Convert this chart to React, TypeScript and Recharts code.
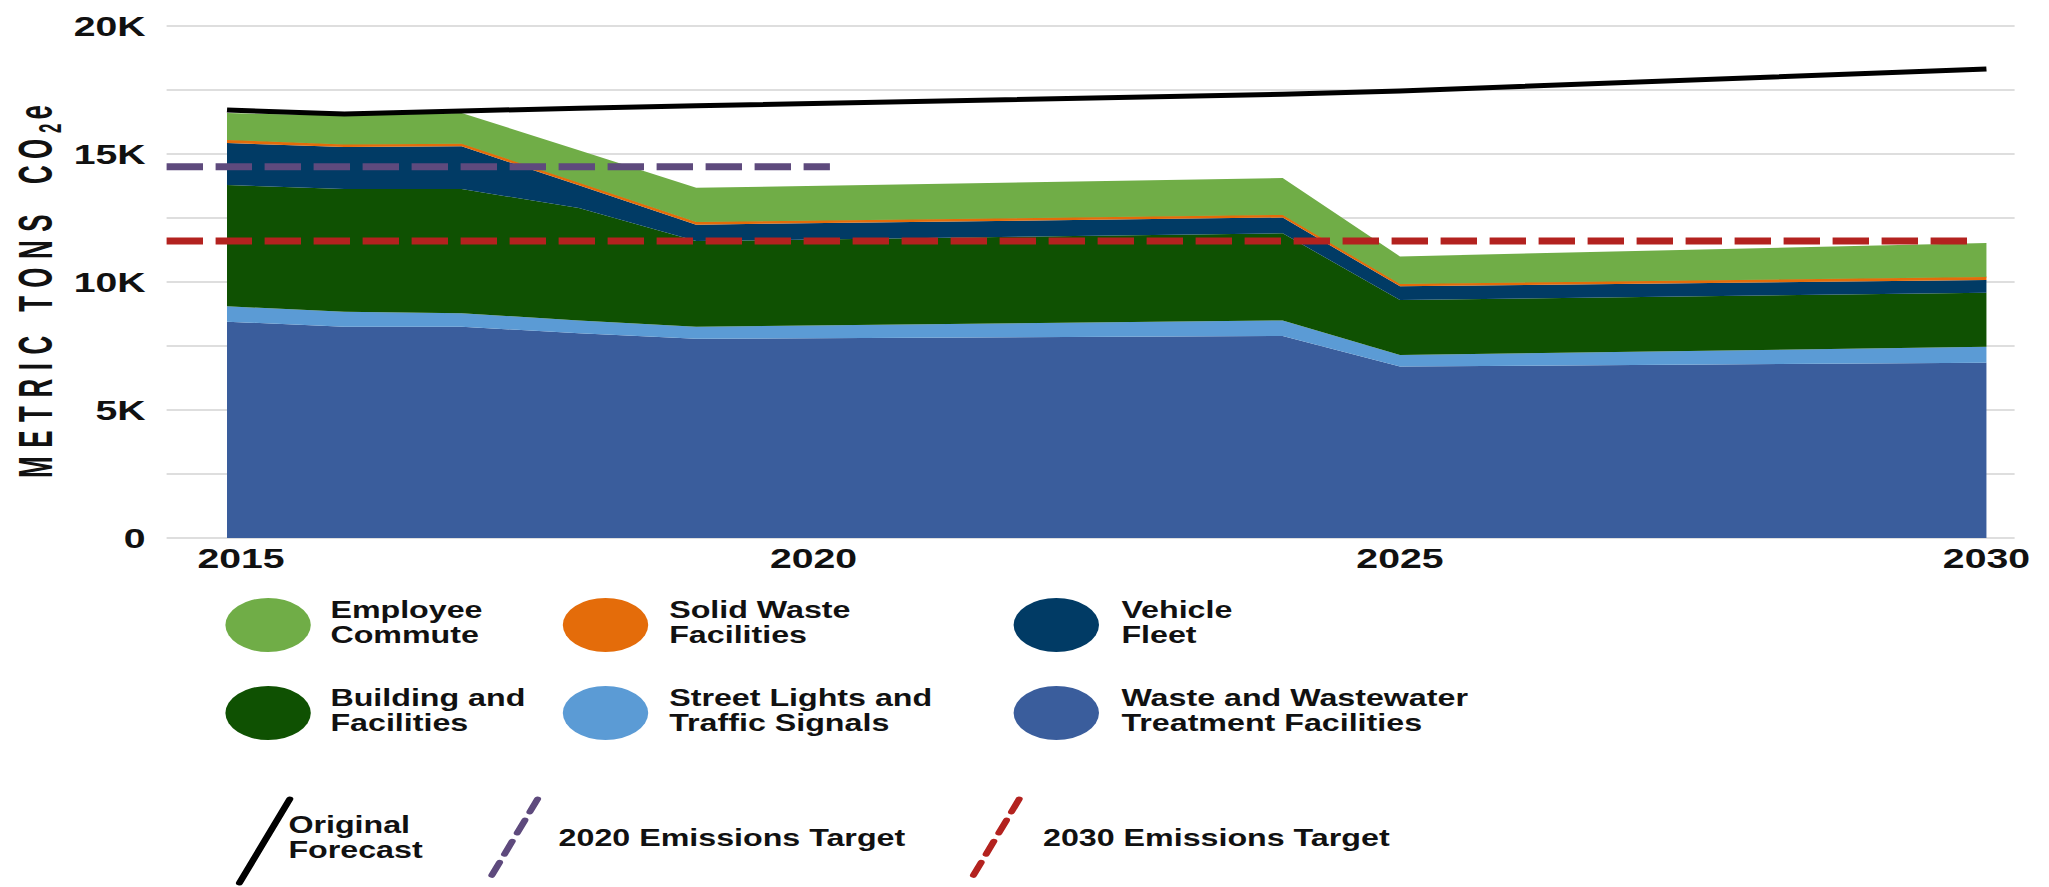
import React from "react";
import {
  Area,
  CartesianGrid,
  ComposedChart,
  Label,
  Legend,
  Line,
  ReferenceLine,
  XAxis,
  YAxis,
} from "recharts";

// years where the stacked areas change direction
const years = [2015, 2016, 2017, 2018, 2019, 2024, 2025, 2030];

// metric tons CO2e per source (stack thickness), bottom to top
const wastewater = [8450, 8250, 8250, 8000, 7780, 7890, 6700, 6850];
const streetLights = [600, 590, 530, 500, 470, 610, 450, 620];
const buildings = [4740, 4790, 4850, 4390, 3350, 3400, 2150, 2110];
const vehicleFleet = [1640, 1640, 1670, 890, 640, 620, 530, 500];
const solidWaste = [120, 100, 100, 100, 100, 100, 90, 120];
const employeeCommute = [1050, 1130, 1200, 1270, 1340, 1440, 1080, 1320];
const originalForecast = [16720, 16560, 16680, 16790, 16880, 17330, 17460, 18320];

// emission targets: value and the span of years the dashed line covers
const target2020 = { value: 14500, from: 2014.485, to: 2020.14 };
const target2030 = { value: 11600, from: 2014.485, to: 2029.85 };

const xTicks = [2015, 2020, 2025, 2030];
const yTicks = [0, 2500, 5000, 7500, 10000, 12500, 15000, 17500, 20000];

const FONT = "'Liberation Sans', Arial, sans-serif";
// the original graphic is stretched sideways, so the whole chart is scaled on x
const SX = 1.4;
const W = 1463;
const H = 887;

const COLORS = {
  commute: "#70AD47",
  solid: "#E46C0A",
  fleet: "#013B65",
  buildings: "#0F5102",
  lights: "#5B9BD5",
  wastewater: "#3A5D9C",
  forecast: "#000000",
  t2020: "#5E4A7D",
  t2030: "#B3221F",
};

const data = years.map((year, i) => ({
  year,
  wastewater: wastewater[i],
  lights: streetLights[i],
  buildings: buildings[i],
  fleet: vehicleFleet[i],
  solid: solidWaste[i],
  commute: employeeCommute[i],
  forecast: originalForecast[i],
}));

const fmtY = (v: number) => (v === 0 ? "0" : v % 5000 === 0 ? `${v / 1000}K` : "");

const tickStyle = { fill: "#111", fontSize: 28, fontWeight: 700, fontFamily: FONT };

// first year label sits a bit right of its tick in the original
function XTick(props: any) {
  const { x, y, payload } = props;
  const dx = payload.value === xTicks[0] ? 10 : 0;
  return (
    <text x={x + dx} y={y} dy="0.71em" textAnchor="middle" {...tickStyle}>
      {payload.value}
    </text>
  );
}

function YTitle() {
  return (
    <text
      transform="rotate(-90) scale(1,1.34)"
      x={-478}
      y={27.7}
      fontSize={26}
      fontWeight={700}
      letterSpacing={8.5}
      fill="#111"
      fontFamily={FONT}
    >
      METRIC TONS
      <tspan dx={22} letterSpacing={6}>CO</tspan>
      <tspan fontSize={17} dy={5} letterSpacing={4}>2</tspan>
      <tspan dy={-5}>e</tspan>
    </text>
  );
}

// legend rows: areas as ellipses, lines as slashes
const areaLegend = [
  { key: "commute", lines: ["Employee", "Commute"] },
  { key: "solid", lines: ["Solid Waste", "Facilities"] },
  { key: "fleet", lines: ["Vehicle", "Fleet"] },
  { key: "buildings", lines: ["Building and", "Facilities"] },
  { key: "lights", lines: ["Street Lights and", "Traffic Signals"] },
  { key: "wastewater", lines: ["Waste and Wastewater", "Treatment Facilities"] },
];
const lineLegend = [
  { key: "forecast", lines: ["Original", "Forecast"], dash: undefined },
  { key: "t2020", lines: ["2020 Emissions Target"], dash: "14 9" },
  { key: "t2030", lines: ["2030 Emissions Target"], dash: "14 9" },
];

const markerCols = [161, 402, 724];
const textCols = [236, 478, 801];
const rowCenters = [625, 713];
const slashCols = [168, 345, 689];
const slashTextCols = [206, 399, 745];
const slashRowCenter = 840;

function LegendContent() {
  return (
    <div
      style={{
        position: "relative",
        width: W,
        height: H,
        fontFamily: FONT,
        fontWeight: 700,
        fontSize: 23,
        lineHeight: "25px",
        color: "#111",
      }}
    >
      {areaLegend.map((it, i) => {
        const col = i % 3;
        const cy = rowCenters[Math.floor(i / 3)];
        return (
          <React.Fragment key={it.key}>
            <div
              style={{
                position: "absolute",
                left: markerCols[col],
                top: cy - 27,
                width: 61,
                height: 54,
                borderRadius: "50%",
                background: COLORS[it.key as keyof typeof COLORS],
              }}
            />
            <div
              style={{
                position: "absolute",
                left: textCols[col],
                top: cy - 27,
                whiteSpace: "nowrap",
              }}
            >
              {it.lines.map((l) => (
                <div key={l}>{l}</div>
              ))}
            </div>
          </React.Fragment>
        );
      })}
      {lineLegend.map((it, i) => (
        <React.Fragment key={it.key}>
          <svg
            width={42}
            height={90}
            style={{ position: "absolute", left: slashCols[i], top: slashRowCenter - 44 }}
          >
            <line
              x1={39}
              y1={3}
              x2={3}
              y2={87}
              stroke={COLORS[it.key as keyof typeof COLORS]}
              strokeWidth={5}
              strokeLinecap="round"
              strokeDasharray={it.dash}
            />
          </svg>
          <div
            style={{
              position: "absolute",
              left: slashTextCols[i],
              top: slashRowCenter - 12.5 * it.lines.length - 2,
              whiteSpace: "nowrap",
            }}
          >
            {it.lines.map((l) => (
              <div key={l}>{l}</div>
            ))}
          </div>
        </React.Fragment>
      ))}
    </div>
  );
}

export default function App() {
  return (
    <div
      style={{
        position: "absolute",
        left: 0,
        top: 0,
        width: W,
        height: H,
        background: "#fff",
        transform: `scaleX(${SX})`,
        transformOrigin: "0 0",
      }}
    >
      <ComposedChart
        width={W}
        height={H}
        data={data}
        margin={{ top: 26, right: 24, bottom: 309, left: 0 }}
      >
        <CartesianGrid vertical={false} stroke="#D3D3D3" strokeWidth={1.6} />
        <XAxis
          dataKey="year"
          type="number"
          domain={[2014.485, 2030.24]}
          ticks={xTicks}
          interval={0}
          allowDataOverflow
          axisLine={false}
          tickLine={false}
          tickSize={0}
          tickMargin={10}
          height={40}
          tick={<XTick />}
        />
        <YAxis
          type="number"
          domain={[0, 20000]}
          ticks={yTicks}
          interval={0}
          width={119}
          axisLine={false}
          tickLine={false}
          tickSize={0}
          tickMargin={15}
          tickFormatter={fmtY}
          tick={tickStyle}
        >
          <Label content={YTitle} />
        </YAxis>
        <Area type="linear" dataKey="wastewater" stackId="s" fill={COLORS.wastewater} fillOpacity={1} stroke="none" isAnimationActive={false} activeDot={false} />
        <Area type="linear" dataKey="lights" stackId="s" fill={COLORS.lights} fillOpacity={1} stroke="none" isAnimationActive={false} activeDot={false} />
        <Area type="linear" dataKey="buildings" stackId="s" fill={COLORS.buildings} fillOpacity={1} stroke="none" isAnimationActive={false} activeDot={false} />
        <Area type="linear" dataKey="fleet" stackId="s" fill={COLORS.fleet} fillOpacity={1} stroke="none" isAnimationActive={false} activeDot={false} />
        <Area type="linear" dataKey="solid" stackId="s" fill={COLORS.solid} fillOpacity={1} stroke={COLORS.solid} strokeWidth={1} isAnimationActive={false} activeDot={false} />
        <Area type="linear" dataKey="commute" stackId="s" fill={COLORS.commute} fillOpacity={1} stroke="none" isAnimationActive={false} activeDot={false} />
        <Line
          type="linear"
          dataKey="forecast"
          stroke={COLORS.forecast}
          strokeWidth={5}
          dot={false}
          activeDot={false}
          isAnimationActive={false}
        />
        <ReferenceLine
          segment={[
            { x: target2020.from, y: target2020.value },
            { x: target2020.to, y: target2020.value },
          ]}
          stroke={COLORS.t2020}
          strokeWidth={7}
          strokeDasharray="26 9"
          ifOverflow="visible"
        />
        <ReferenceLine
          segment={[
            { x: target2030.from, y: target2030.value },
            { x: target2030.to, y: target2030.value },
          ]}
          stroke={COLORS.t2030}
          strokeWidth={7}
          strokeDasharray="26 9"
          ifOverflow="visible"
        />
        <Legend
          layout="horizontal"
          verticalAlign="middle"
          align="center"
          content={LegendContent}
          wrapperStyle={{ left: 0, top: 0, width: W, height: H, pointerEvents: "none" }}
        />
      </ComposedChart>
    </div>
  );
}
